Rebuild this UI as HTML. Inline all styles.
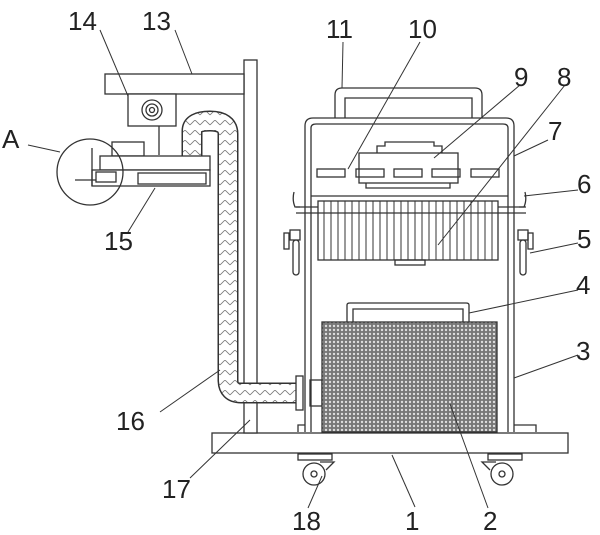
<!DOCTYPE html>
<html><head><style>body{margin:0;background:#fff}svg{display:block}</style></head><body>
<svg width="600" height="535" viewBox="0 0 600 535" xmlns="http://www.w3.org/2000/svg">
<defs>
<pattern id="mesh" width="4" height="4" patternUnits="userSpaceOnUse"><rect width="4" height="4" fill="#777"/><circle cx="2" cy="2" r="1.2" fill="#ddd"/></pattern>
<pattern id="braid" width="10" height="10" patternUnits="userSpaceOnUse"><rect width="10" height="10" fill="#fff"/><path d="M0 5 L5 0 L10 5" stroke="#777" stroke-width="0.8" fill="none"/></pattern>
</defs>
<g fill="none" stroke="#333" stroke-width="1.3">
<rect x="212" y="433" width="356" height="20" fill="#fff"/>
<g><rect x="298" y="454" width="34" height="6"/><circle cx="314" cy="474" r="11"/><circle cx="314" cy="474" r="3"/><path d="M320 462 L334 462 L326 470"/></g>
<g><rect x="488" y="454" width="34" height="6"/><circle cx="502" cy="474" r="11"/><circle cx="502" cy="474" r="3"/><path d="M496 462 L482 462 L490 470"/></g>
<rect x="244" y="60" width="13" height="373" fill="#fff"/>
<rect x="105" y="74" width="139" height="20" fill="#fff"/>
<rect x="128" y="94" width="48" height="32" fill="#fff"/>
<circle cx="152" cy="110" r="10"/><circle cx="152" cy="110" r="6"/><circle cx="152" cy="110" r="2.5"/>
<line x1="159" y1="126" x2="159" y2="155"/>
<!-- hose -->
<path d="M192 156 L192 131 Q192 121 210 121 Q228 121 228 134 L228 380 Q228 393 241 393 L298 393" stroke="#333" stroke-width="21"/>
<path d="M192 156 L192 131 Q192 121 210 121 Q228 121 228 134 L228 380 Q228 393 241 393 L298 393" stroke="url(#braid)" stroke-width="18"/>
<rect x="296" y="376" width="7" height="34" fill="#fff"/>
<rect x="310" y="380" width="12" height="26" fill="#fff"/>
<rect x="112" y="142" width="32" height="14"/>
<rect x="100" y="156" width="110" height="14" fill="#fff"/>
<rect x="92" y="170" width="118" height="16" fill="#fff"/>
<rect x="138" y="173" width="68" height="11"/>
<rect x="96" y="172" width="20" height="10"/>
<line x1="75" y1="180" x2="96" y2="180"/>
<path d="M92 148 L92 186"/>
<circle cx="90" cy="172" r="33"/>
<path d="M335 118 L335 95 Q335 88 342 88 L475 88 Q482 88 482 95 L482 118"/>
<path d="M345 118 L345 98 L472 98 L472 118"/>
<path d="M305 432 L305 126 Q305 118 313 118 L506 118 Q514 118 514 126 L514 432"/>
<path d="M311 432 L311 128 Q311 124 316 124 L503 124 Q508 124 508 128 L508 432"/>
<line x1="311" y1="196" x2="508" y2="196"/>
<path d="M296 207 L526 207 M296 213 L526 213"/>
<path d="M298 432 L298 425 L305 425 M514 425 L536 425 L536 432"/>
<rect x="359" y="153" width="99" height="30"/>
<path d="M377 153 L377 146 L385 146 L385 142 L434 142 L434 146 L442 146 L442 153"/>
<path d="M366 183 L366 188 L450 188 L450 183"/>
<g><rect x="317" y="169" width="28" height="8"/><rect x="356" y="169" width="28" height="8"/><rect x="394" y="169" width="28" height="8"/><rect x="432" y="169" width="28" height="8"/><rect x="471" y="169" width="28" height="8"/></g>
<rect x="318" y="201" width="180" height="59" fill="#fff"/>
<path d="M318 213 L498 213" />
<g stroke-width="1">
<path d="M324 201V260M331 201V260M338 201V260M345 201V260M352 201V260M359 201V260M366 201V260M373 201V260M380 201V260M387 201V260M394 201V260M401 201V260M408 201V260M415 201V260M422 201V260M429 201V260M436 201V260M443 201V260M450 201V260M457 201V260M464 201V260M471 201V260M478 201V260M485 201V260M492 201V260"/>
</g>
<rect x="395" y="260" width="30" height="5"/>
<path d="M300 207 L295 207 Q292 200 294 192 M519 207 L524 207 Q527 200 525 192"/>
<rect x="290" y="230" width="10" height="10"/><rect x="293" y="240" width="6" height="35" rx="3"/><rect x="284" y="233" width="5" height="16"/>
<rect x="518" y="230" width="10" height="10"/><rect x="520" y="240" width="6" height="35" rx="3"/><rect x="528" y="233" width="5" height="16"/>
<path d="M347 322 L347 305 Q347 303 350 303 L466 303 Q469 303 469 305 L469 322"/>
<path d="M353 322 L353 309 L463 309 L463 322"/>
<rect x="322" y="322" width="175" height="110" fill="url(#mesh)"/>
</g>
<g stroke="#333" stroke-width="1" fill="none">
<path d="M100 30 L128 96"/><path d="M175 30 L192 74"/>
<path d="M343 42 L342 88"/><path d="M420 42 L348 169"/>
<path d="M520 85 L434 158"/><path d="M565 85 L438 245"/>
<path d="M548 140 L514 156"/><path d="M578 190 L524 196"/>
<path d="M578 243 L530 253"/><path d="M578 290 L469 313"/>
<path d="M578 355 L514 378"/><path d="M160 412 L220 370"/>
<path d="M190 478 L250 420"/><path d="M308 508 L322 476"/>
<path d="M415 507 L392 455"/><path d="M488 508 L450 404"/>
<path d="M28 145 L60 152"/><path d="M128 232 L155 188"/>
</g>
<g font-family="Liberation Sans, sans-serif" font-size="26" fill="#222">
<text x="68" y="30">14</text><text x="142" y="30">13</text>
<text x="326" y="38">11</text><text x="408" y="38">10</text>
<text x="514" y="86">9</text><text x="557" y="86">8</text>
<text x="548" y="140">7</text><text x="577" y="193">6</text>
<text x="577" y="248">5</text><text x="576" y="294">4</text>
<text x="576" y="360">3</text><text x="116" y="430">16</text>
<text x="162" y="498">17</text><text x="292" y="530">18</text>
<text x="405" y="530">1</text><text x="483" y="530">2</text>
<text x="2" y="148">A</text><text x="104" y="250">15</text>
</g>
</svg>
</body></html>
